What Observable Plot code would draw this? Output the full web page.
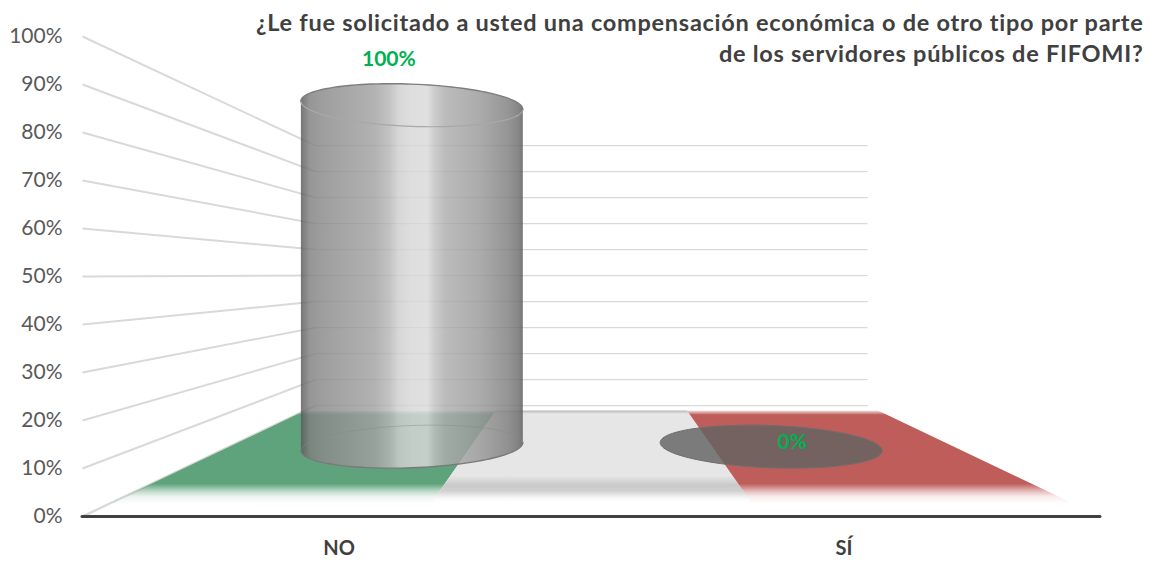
<!DOCTYPE html>
<html>
<head>
<meta charset="utf-8">
<script src="https://cdn.jsdelivr.net/npm/d3@7"></script>
<script src="https://cdn.jsdelivr.net/npm/@observablehq/plot@0.6"></script>
<style>html,body{margin:0;padding:0;background:#fff}svg{display:block}.chart-title text{letter-spacing:.74px}</style>
</head>
<body>
<div id="chart"></div>
<script>
// ---- data ----
const categories = ["NO", "SÍ"];
const values = [100, 0];
const valueLabels = ["100%", "0%"];
const categoryPos = [0.252, 0.748];
const yTicks = [0, 10, 20, 30, 40, 50, 60, 70, 80, 90, 100];
const titleText = "¿Le fue solicitado a usted una compensación económica o de otro tipo por parte\nde los servidores públicos de FIFOMI?";
const floorBands = [
  {u0: 0, u1: 1 / 3, fill: "url(#floorGreen)"},
  {u0: 1 / 3, u1: 2 / 3, fill: "url(#floorGray)"},
  {u0: 2 / 3, u1: 1, fill: "url(#floorRed)"}
];
// ---- 3D box description, in units of the x and y scales ----
const backInset = 0.2289;   // back wall inset, per side, as a share of the x range
const backLift = 23.1;      // where 0% of the back wall sits on the y scale
const backShrink = 0.5417;  // back wall height relative to the front
const barDepth = 0.63;
const floorNear = 0.115, floorFar = 0.955;
const radiusX = 0.109, radiusY = 4.4, skew = 0.85;

const project = (u, d, v) => ({
  x: u + (0.5 - u) * 2 * backInset * d,
  y: backLift * d + v * (1 - (1 - backShrink) * d)
});
const angles = d3.range(0, 361, 3).map(a => a * Math.PI / 180);
const ellipse = (u, v, tilt, list = angles) => list.map(a => {
  const c = project(u, barDepth, v);
  return {x: c.x + radiusX * Math.cos(a),
          y: c.y + radiusY * Math.sin(a) + tilt * Math.cos(a)};
});
const arc = (from, to) => d3.range(from, to + 1, 3).map(a => a * Math.PI / 180);

const sideLines = yTicks.map(v => {
  const a = project(0, 0, v), b = project(0, 1, v);
  return {x1: a.x, y1: a.y, x2: b.x, y2: b.y};
});
const backLines = yTicks.map(v => {
  const a = project(0, 1, v), b = project(1, 1, v);
  return {x1: a.x, y1: a.y, x2: b.x, y2: b.y};
});
const floorEdge = [project(0, 0, 0), project(0, 1, 0)];
const floorPoly = b => [project(b.u0, floorNear, 0), project(b.u1, floorNear, 0),
                        project(b.u1, floorFar, 0), project(b.u0, floorFar, 0), project(b.u0, floorNear, 0)];

const u = categoryPos[0], H = values[0];
const topTilt = -skew, baseTilt = skew;
const topUpper = ellipse(u, H, topTilt, arc(0, 180));   // visually upper half
const topLower = ellipse(u, H, topTilt, arc(180, 360));
const baseUpper = ellipse(u, 0, baseTilt, arc(0, 180));
const baseLower = ellipse(u, 0, baseTilt, arc(180, 360));
const body = [...topUpper, ...baseLower];
const zeroDisc = ellipse(categoryPos[1], values[1], -skew);
const labelAnchors = categoryPos.map((p, i) => ({...project(p, barDepth, values[i]), text: valueLabels[i]}));

const defs = () => {
  const g = d3.create("svg:defs");
  const grad = (id, stops, vertical) => {
    const l = g.append("linearGradient").attr("id", id)
      .attr("x1", 0).attr("y1", 0).attr("x2", vertical ? 0 : 1).attr("y2", vertical ? 1 : 0);
    stops.forEach(s => l.append("stop").attr("offset", s[0]).attr("stop-color", s[1]).attr("stop-opacity", s[2] ?? 1));
  };
  const fade = c => [[0, c, 0.2], [0.045, c, 1], [0.785, c, 1], [0.86, c, 0.45], [0.92, c, 0.12], [1, c, 0]];
  grad("floorGreen", fade("#5FA37C"), true);
  grad("floorRed", fade("#BF5D5B"), true);
  grad("floorGray", [[0, "#b8b8b8"], [0.035, "#e6e6e6"], [0.7, "#e6e6e6"], [0.8, "#c9c9c9"], [0.86, "#d0d0d0"], [0.93, "#f4f4f4"], [1, "#ffffff", 0]], true);
  const a = 0.82, shade = t => { const c = Math.max(0, Math.round((t - 255 * (1 - a)) / a)); return `rgb(${c},${c},${c})`; };
  const cylStops = [[0, 118], [0.012, 128], [0.04, 150], [0.1, 158], [0.33, 178], [0.4, 195], [0.44, 215], [0.5, 222], [0.57, 224], [0.6, 205], [0.65, 188], [0.8, 172], [0.93, 150], [0.98, 135], [1, 118]];
  grad("cyl", cylStops.map(s => [s[0], shade(s[1]), a]));
  return g.node();
};

const plot = Plot.plot({
  width: 1153, height: 563,
  marginLeft: 62, marginRight: 0, marginTop: 0, marginBottom: 0,
  style: {fontFamily: "Lato, sans-serif", background: "#fff", overflow: "visible"},
  x: {domain: [0, 1], range: [82, 1100]},
  y: {domain: [0, 100], range: [516, 36]},
  marks: [
    defs,
    Plot.axisY({ticks: yTicks, tickFormat: d => d + "%", tickSize: 0, tickPadding: 0, fontSize: 21, fill: "#595959", label: null}),
    Plot.axisX({ticks: categoryPos, tickFormat: d => categories[categoryPos.indexOf(d)], tickSize: 0, tickPadding: 0, fontSize: 20, fontWeight: 700, fill: "#404040", label: null, marginBottom: 0, dy: -23, anchor: "bottom"}),
    Plot.link(sideLines, {x1: "x1", y1: "y1", x2: "x2", y2: "y2", stroke: "#d9d9d9", strokeWidth: 2}),
    Plot.link(backLines, {x1: "x1", y1: "y1", x2: "x2", y2: "y2", stroke: "#d9d9d9", strokeWidth: 1.4}),
    Plot.line(floorEdge, {x: "x", y: "y", stroke: "#d9d9d9", strokeWidth: 2}),
    ...floorBands.map(b => Plot.line(floorPoly(b), {x: "x", y: "y", fill: b.fill, stroke: "none"})),
    Plot.ruleY([0], {x1: 0, x2: 1, stroke: "#404040", strokeWidth: 3, strokeLinecap: "round"}),
    Plot.line(body, {x: "x", y: "y", fill: "url(#cyl)", stroke: "none"}),
    Plot.line(baseUpper, {x: "x", y: "y", stroke: "#8a8a8a", strokeOpacity: 0.45, strokeWidth: 1}),
    Plot.line(baseLower, {x: "x", y: "y", stroke: "#7a7a7a", strokeWidth: 1.4}),
    Plot.line(topLower, {x: "x", y: "y", stroke: "#a8a8a8", strokeWidth: 1.2}),
    Plot.line(topUpper, {x: "x", y: "y", stroke: "#7d7d7d", strokeWidth: 1.4}),
    Plot.line(zeroDisc, {x: "x", y: "y", fill: "#636363", fillOpacity: 0.82, stroke: "#6e6e6e", strokeWidth: 1}),
    Plot.text(labelAnchors.slice(0, 1), {x: "x", y: "y", text: "text", dx: -23, dy: -46, fill: "#00B050", fontSize: 21, fontWeight: 700}),
    Plot.text(labelAnchors.slice(1), {x: "x", y: "y", text: "text", dx: 21, dy: -4, fill: "#00B050", fontSize: 21, fontWeight: 700}),
    Plot.text([titleText], {frameAnchor: "top-right", dx: -10, dy: 9, lineHeight: 1.3, textAnchor: "end", fill: "#404040", fontSize: 23.5, fontWeight: 700, className: "chart-title"})
  ]
});
document.getElementById("chart").appendChild(plot);
</script>
</body>
</html>
